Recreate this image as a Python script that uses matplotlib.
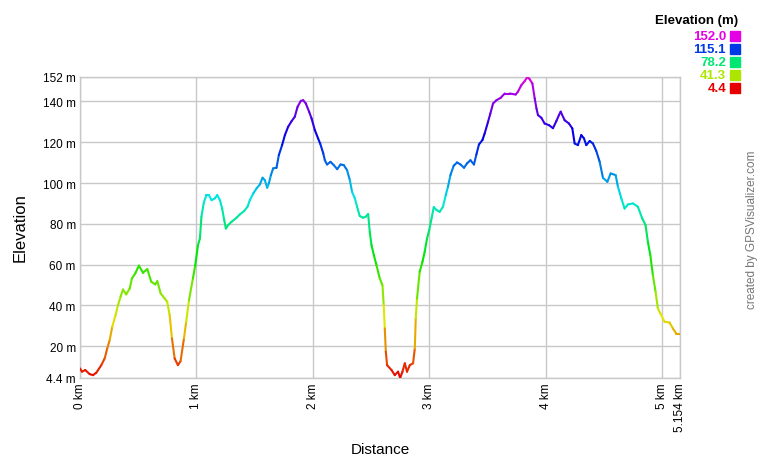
import numpy as np
import matplotlib
matplotlib.use("Agg")
import matplotlib.pyplot as plt
from matplotlib.collections import LineCollection
import colorsys

plt.rcParams['font.family'] = ['Liberation Sans', 'DejaVu Sans']

distance_km = [0.0, 0.017, 0.045, 0.083, 0.112, 0.140, 0.183, 0.212, 0.234, 0.255, 0.277, 0.306, 0.326, 0.349,
               0.369, 0.397, 0.427, 0.446, 0.475, 0.506, 0.541, 0.578, 0.612, 0.646, 0.664, 0.693, 0.727, 0.749,
               0.770, 0.790, 0.813, 0.841, 0.864, 0.893, 0.912, 0.936, 0.970, 0.990, 1.013, 1.030, 1.043, 1.064,
               1.086, 1.107, 1.130, 1.159, 1.179, 1.202, 1.221, 1.239, 1.253, 1.273, 1.302, 1.345, 1.373, 1.410,
               1.439, 1.459, 1.488, 1.517, 1.545, 1.568, 1.588, 1.608, 1.622, 1.640, 1.659, 1.688, 1.708, 1.736,
               1.760, 1.788, 1.817, 1.845, 1.869, 1.897, 1.917, 1.940, 1.968, 1.989, 2.017, 2.045, 2.064, 2.090,
               2.103, 2.122, 2.152, 2.180, 2.209, 2.238, 2.266, 2.294, 2.318, 2.337, 2.361, 2.380, 2.403, 2.432,
               2.455, 2.475, 2.489, 2.504, 2.524, 2.547, 2.575, 2.598, 2.609, 2.618, 2.627, 2.638, 2.676, 2.704,
               2.732, 2.750, 2.770, 2.790, 2.809, 2.833, 2.861, 2.876, 2.884, 2.895, 2.918, 2.942, 2.961, 2.981,
               3.000, 3.021, 3.039, 3.062, 3.090, 3.118, 3.142, 3.161, 3.182, 3.210, 3.239, 3.268, 3.299, 3.324,
               3.354, 3.384, 3.405, 3.427, 3.457, 3.476, 3.505, 3.525, 3.548, 3.577, 3.614, 3.648, 3.691, 3.742,
               3.762, 3.791, 3.820, 3.843, 3.863, 3.886, 3.906, 3.921, 3.934, 3.963, 3.991, 4.028, 4.063, 4.092,
               4.114, 4.129, 4.163, 4.200, 4.229, 4.249, 4.277, 4.306, 4.329, 4.349, 4.378, 4.406, 4.435, 4.464,
               4.492, 4.530, 4.558, 4.601, 4.621, 4.650, 4.678, 4.707, 4.750, 4.792, 4.830, 4.858, 4.878, 4.899,
               4.921, 4.944, 4.964, 4.985, 5.021, 5.064, 5.093, 5.122, 5.154]

elevation_m = [9.1, 7.5, 8.3, 6.3, 5.8, 7.0, 10.7, 14.0, 18.9, 23.0, 29.5, 35.3, 40.1, 44.3,
               47.8, 45.4, 48.3, 53.2, 55.7, 59.5, 56.0, 57.8, 51.6, 50.3, 51.9, 45.9, 43.4, 41.8,
               35.3, 23.8, 14.0, 10.7, 12.7, 23.8, 31.9, 42.5, 53.2, 59.7, 69.5, 72.8, 83.5, 90.5,
               94.1, 94.1, 91.6, 92.5, 94.1, 91.6, 87.5, 81.8, 77.7, 79.4, 81.0, 83.0, 84.6, 86.3,
               88.4, 91.6, 94.9, 97.4, 99.3, 102.6, 101.4, 97.7, 99.8, 103.9, 107.2, 107.5, 113.7, 118.6,
               123.5, 127.6, 130.3, 132.5, 137.4, 140.3, 140.6, 139.0, 135.0, 131.7, 126.0, 121.9, 119.2, 114.5,
               111.2, 109.1, 110.4, 108.8, 106.8, 109.1, 108.8, 106.3, 101.4, 95.7, 92.5, 88.4, 83.8, 83.0,
               83.5, 84.8, 76.1, 69.5, 64.7, 59.7, 53.2, 49.9, 40.1, 28.7, 17.3, 10.7, 8.3, 5.8,
               7.5, 4.4, 7.5, 11.6, 7.5, 10.7, 11.6, 18.9, 33.6, 43.4, 56.5, 61.4, 66.3, 72.8,
               77.0, 83.0, 88.2, 86.8, 85.9, 88.4, 94.1, 98.2, 103.9, 108.5, 110.1, 109.1, 107.5, 109.6,
               111.2, 109.1, 114.0, 118.9, 121.1, 124.3, 130.0, 134.1, 139.0, 140.6, 141.8, 143.9, 143.9, 143.4,
               144.8, 148.0, 150.0, 152.0, 150.9, 148.8, 141.5, 136.6, 133.3, 132.0, 129.2, 128.4, 126.9, 130.4,
               133.3, 135.0, 130.8, 129.2, 126.8, 119.4, 118.6, 123.5, 121.9, 118.6, 120.6, 119.4, 115.7, 110.4,
               102.6, 100.6, 104.7, 103.9, 98.2, 92.5, 87.5, 89.5, 90.0, 88.4, 82.6, 79.4, 71.2, 64.7,
               54.8, 46.7, 38.5, 36.1, 32.0, 31.6, 28.7, 26.2, 26.2]

x_ticks = [0, 1, 2, 3, 4, 5, 5.154]
x_tick_labels = ["0 km", "1 km", "2 km", "3 km", "4 km", "5 km", "5.154 km"]
y_ticks = [4.4, 20, 40, 60, 80, 100, 120, 140, 152]
y_tick_labels = ["4.4 m", "20 m", "40 m", "60 m", "80 m", "100 m", "120 m", "140 m", "152 m"]
legend_values = [152.0, 115.1, 78.2, 41.3, 4.4]

E_MIN, E_MAX = 4.4, 152.0


def elev_color(e):
    f = (e - E_MIN) / (E_MAX - E_MIN)
    f = min(max(f, 0.0), 1.0)
    return colorsys.hsv_to_rgb(f * 300.0 / 360.0, 1.0, 0.9)


fig = plt.figure(figsize=(7.6, 4.6), dpi=100)
ax = fig.add_axes([80 / 760, 1 - 379 / 460, 600 / 760, 301 / 460])

d = np.array(distance_km)
e = np.array(elevation_m)
pts = np.column_stack([d, e]).reshape(-1, 1, 2)
segs = np.concatenate([pts[:-1], pts[1:]], axis=1)
cols = [elev_color((e[i] + e[i + 1]) / 2) for i in range(len(e) - 1)]
lc = LineCollection(segs, colors=cols, linewidths=1.5, capstyle='round', joinstyle='round', zorder=3)
ax.add_collection(lc)

ax.set_xlim(0, 5.154)
ax.set_ylim(E_MIN, E_MAX)
ax.set_xticks(x_ticks)
ax.set_xticklabels(x_tick_labels, rotation=90, fontsize=8.5)
ax.set_yticks(y_ticks)
ax.set_yticklabels(y_tick_labels, fontsize=8.5)
ax.tick_params(length=0, pad=3)
ax.grid(True, color='#c8c8c8', linewidth=1.0, zorder=1)
for s in ax.spines.values():
    s.set_color('#c8c8c8')
    s.set_linewidth(1.0)

fig.text(20 / 760, 1 - 228 / 460, "Elevation", rotation=90, ha='center', va='center', fontsize=12)
fig.text(380 / 760, 1 - 450 / 460, "Distance", ha='center', va='center', fontsize=11)

fig.text(738 / 760, 1 - 21 / 460, "Elevation (m)", ha='right', va='center', fontsize=9.5, fontweight='bold')
leg_y = [37, 50, 63, 76, 89]
for v, yy in zip(legend_values, leg_y):
    c = elev_color(v)
    fig.text(726 / 760, 1 - yy / 460, f"{v:.1f}", ha='right', va='center', fontsize=9.5,
             fontweight='bold', color=c)
    fig.patches.append(plt.Rectangle((730 / 760, 1 - (yy + 5) / 460), 10 / 760, 10 / 460,
                                     transform=fig.transFigure, color=c, figure=fig))

fig.text(752 / 760, 1 - 230 / 460, "created by GPSVisualizer.com", rotation=90, ha='center', va='center',
         fontsize=8.5, color='#777777')

fig.savefig("out.png", dpi=100)
